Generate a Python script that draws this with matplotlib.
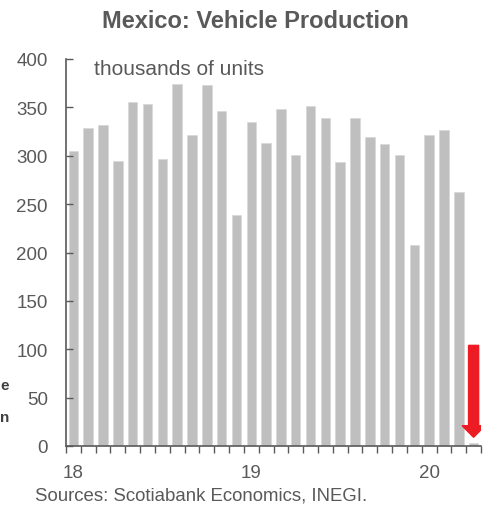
import numpy as np
import matplotlib
matplotlib.use("Agg")
import matplotlib.pyplot as plt

plt.rcParams['font.family'] = ['Liberation Sans', 'DejaVu Sans']

# Monthly vehicle production, Jan 2018 .. Apr 2020 (thousands of units)
production = [305, 329, 332, 295, 356, 354, 297, 374, 321, 373, 346, 239,
              335, 313, 348, 301, 351, 339, 294, 339, 319, 312, 301, 208,
              321, 327, 263, 3]
year_labels = ["18", "19", "20"]
year_pos = [0, 12, 24]

# arrow marking the April 2020 collapse
arrow_top = 104
arrow_bottom = 9

TXT = "#595959"
BAR = "#bfbfbf"
RED = "#ed1c24"

W, H = 490, 506
fig = plt.figure(figsize=(W / 100, H / 100), dpi=100)
ax = fig.add_axes([66 / W, 1 - 447 / H, (481 - 66) / W, (447 - 60) / H])

x = np.arange(len(production))
ax.bar(x, production, width=0.64, color=BAR, edgecolor="#d6d6d6", linewidth=0.4)

ax.arrow(x[-1], arrow_top, 0, arrow_bottom - arrow_top, width=0.68,
         head_width=1.55, head_length=12, length_includes_head=True,
         color=RED, zorder=4)

ax.set_xlim(-0.5, len(production) - 0.5)
ax.set_ylim(0, 400)
ax.set_yticks(np.arange(0, 401, 50))

ax.set_xticks(np.arange(-0.5, len(production) + 0.5, 1), minor=True)
ax.set_xticks(year_pos)
ax.set_xticklabels(year_labels)
ax.tick_params(axis='x', which='major', length=0, pad=13, labelsize=13.5, labelcolor=TXT)
ax.tick_params(axis='x', which='minor', direction='out', length=5, width=1, color=TXT)
ax.tick_params(axis='y', direction='in', length=5, width=1, color=TXT, pad=13,
               labelsize=13.5, labelcolor=TXT)

for s in ("top", "right"):
    ax.spines[s].set_visible(False)
for s in ("left", "bottom"):
    ax.spines[s].set_color(TXT)
    ax.spines[s].set_linewidth(1.2)

fig.text(255.5 / W, 1 - 22 / H, "Mexico: Vehicle Production", ha="center", va="center",
         fontsize=17, fontweight="bold", color=TXT)
fig.text(94 / W, 1 - 75 / H, "thousands of units", ha="left", va="baseline",
         fontsize=15, color=TXT)
fig.text(35 / W, 1 - 501 / H, "Sources: Scotiabank Economics, INEGI.", ha="left",
         va="baseline", fontsize=13.4, color=TXT)

# edge of the neighbouring panel's text
fig.text(0, 1 - 386 / H, "e", ha="left", va="center", fontsize=11,
         fontweight="bold", color="#404040")
fig.text(0, 1 - 418 / H, "n", ha="left", va="center", fontsize=11,
         fontweight="bold", color="#404040")

fig.savefig("out.png", dpi=100)
